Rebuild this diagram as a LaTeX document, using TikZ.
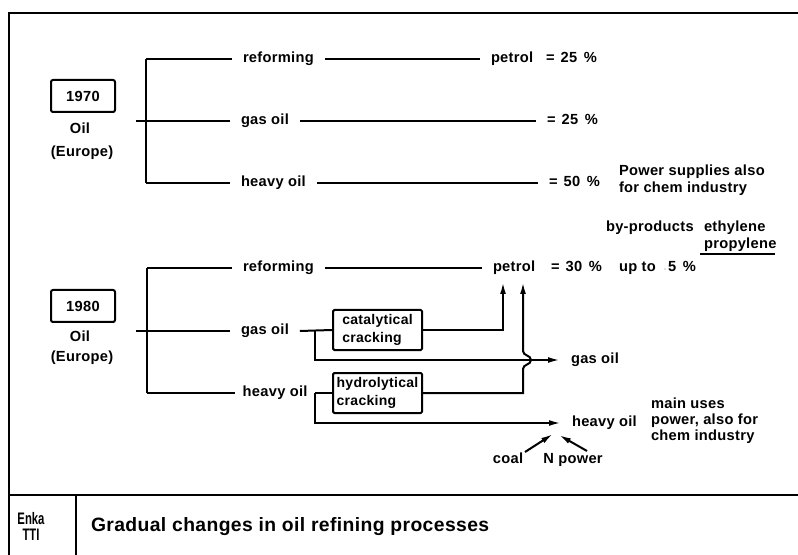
\documentclass[tikz,border=0pt]{standalone}
\usepackage{fontspec}
\setmainfont{Liberation Sans}
\newfontfamily\narrowfont{Liberation Sans}[FakeStretch=0.68]
\newfontfamily\lblfont{Liberation Sans}[LetterSpace=2]
\usetikzlibrary{arrows.meta}
\newcommand{\pcnt}[1]{=\hspace{4.5pt}#1\hspace{5pt}\%}
\begin{document}
\begin{tikzpicture}[x=0.75pt,y=-0.75pt,
  line width=1.5pt,
  lbl/.style={font=\lblfont\bfseries\fontsize{11}{12}\selectfont, inner xsep=7.5pt, inner ysep=0pt,
    text height=7.8pt, text depth=2pt, anchor=west},
  txt/.style={font=\lblfont\bfseries\fontsize{11}{12}\selectfont, inner sep=0pt,
    text height=7.8pt, text depth=2pt, anchor=west},
  yearbox/.style={draw, line width=1.5pt, rounded corners=1.5pt, minimum width=48pt, minimum height=24pt,
    inner sep=0pt, font=\lblfont\bfseries\fontsize{11}{12}\selectfont},
  procbox/.style={draw, line width=1.5pt, rounded corners=1pt, minimum width=66.75pt, minimum height=30pt,
    inner sep=2pt, align=left, font=\lblfont\bfseries\fontsize{10.5}{13.5}\selectfont},
  arr/.style={-{Latex[length=9pt,width=4.4pt]}},
  frame/.style={line width=2pt}
]
\useasboundingbox (0,0) rectangle (798,555);
% frame
\coordinate (fTL) at (9,13);
\coordinate (fTR) at (798,13);
\coordinate (fBL) at (9,555);
\coordinate (dL) at (9,495);
\coordinate (dR) at (798,495);
\coordinate (vT) at (76,495);
\coordinate (vB) at (76,555);
\draw[frame] (fTR) -- (fTL) -- (fBL);
\draw[frame] (dL) -- (dR);
\draw[frame] (vT) -- (vB);
\node[font=\narrowfont\bfseries\fontsize{12.5}{12.5}\selectfont, align=center, inner sep=0pt] (enka) at (31,526) {Enka\\[-0.5pt]TTI};
\node[font=\lblfont\bfseries\fontsize{14.5}{16}\selectfont, anchor=west, inner sep=0pt] (title) at (90,527) {Gradual changes in oil refining processes};

% ===== 1970 =====
\node[yearbox] (y70) at (83,96) {1970};
\node[txt, anchor=center] (oil70) at (80,130) {Oil};
\node[txt, anchor=center] (eu70) at (82,153) {(Europe)};
\coordinate (a0) at (136,121);
\coordinate (aT) at (146,59);
\coordinate (aB) at (146,183);
\node[lbl] (aref) at (232,59) {reforming};
\node[lbl] (agas) at (230,121) {gas oil};
\node[lbl] (ahvy) at (230,183) {heavy oil};
\node[lbl] (apet) at (480,59) {petrol};
\node[lbl] (ap1) at (535,59) {\pcnt{25}};
\node[lbl] (ap2) at (536,121) {\pcnt{25}};
\node[lbl] (ap3) at (538,183) {\pcnt{50}};
\node[txt] (pow1) at (618,172) {Power supplies also};
\node[txt] (pow2) at (618,189) {for chem industry};
\draw (aT) -- (aB);
\draw (aT) -- (aref.west);
\draw (a0) -- (agas.west);
\draw (aB) -- (ahvy.west);
\draw (aref.east) -- (apet.west);
\draw (agas.east) -- (ap2.west);
\draw (ahvy.east) -- (ap3.west);

% by-products
\node[txt] (byp) at (605,228) {by-products};
\node[txt] (eth) at (703,228) {ethylene};
\node[txt] (pro) at (703,245) {propylene};
\coordinate (ulL) at (700,254);
\coordinate (ulR) at (775,254);
\draw[line width=1pt] (ulL) -- (ulR);

% ===== 1980 =====
\node[yearbox] (y80) at (83,306) {1980};
\node[txt, anchor=center] (oil80) at (80,338) {Oil};
\node[txt, anchor=center] (eu80) at (82,358) {(Europe)};
\coordinate (b0) at (136,331);
\coordinate (bT) at (147,268);
\coordinate (bB) at (147,393);
\node[lbl] (bref) at (232,268) {reforming};
\node[lbl] (bgas) at (230,331) {gas oil};
\node[lbl, inner xsep=5pt] (bhvy) at (235,393) {heavy oil};
\node[lbl] (bpet) at (482,268) {petrol};
\node[lbl] (bp1) at (540,268) {\pcnt{30}};
\node[txt] (upto) at (618,268) {up to\hspace{6pt}{\fontsize{6}{6}\selectfont$\cdot$}\hspace{1pt}5\hspace{5pt}\%};
\draw (bT) -- (bB);
\draw (bT) -- (bref.west);
\draw (b0) -- (bgas.west);
\draw (bB) -- (bhvy.west);
\draw (bref.east) -- (bpet.west);

\node[procbox] (cat) at (377.5,330) {catalytical\\cracking};
\node[procbox] (hyd) at (377.5,393) {hydrolytical\\cracking};
\draw (bgas.east) -- (cat.west);
\draw (bhvy.east) -- (hyd.west);

\node[lbl] (gaslbl) at (560,360) {gas oil};
\node[lbl] (hvylbl) at (561,423) {heavy oil};
\coordinate (gj) at (315,331);
\coordinate (gd) at (315,360);
\coordinate (hj) at (315,393);
\coordinate (hd) at (315,423);
\draw[arr] (gj) -- (gd) -- (gaslbl.west);
\draw[arr] (hj) -- (hd) -- (hvylbl.west);

\coordinate (pt1) at (503,282);
\coordinate (pt2) at (523,282);
\coordinate (hop1) at (523,369);
\coordinate (hop2) at (523,351);
\draw[arr] (cat.east) -| (pt1);
\draw[arr] (hyd.east) -| (hop1) .. controls (523,364) and (531,365) .. (531,360)
   .. controls (531,355) and (523,356) .. (hop2) -- (pt2);

\node[txt] (mu1) at (650,405) {main uses};
\node[txt] (mu2) at (650,421) {power, also for};
\node[txt] (mu3) at (650,437) {chem industry};

\node[txt, anchor=center] (coal) at (508,460) {coal};
\node[txt, anchor=center] (npow) at (573,460) {N power};
\coordinate (tip1) at (553,434);
\coordinate (tip2) at (559,435);
\coordinate (st1) at (525,452);
\coordinate (st2) at (587,451);
\draw[arr] (st1) -- (tip1);
\draw[arr] (st2) -- (tip2);
\end{tikzpicture}
\end{document}
